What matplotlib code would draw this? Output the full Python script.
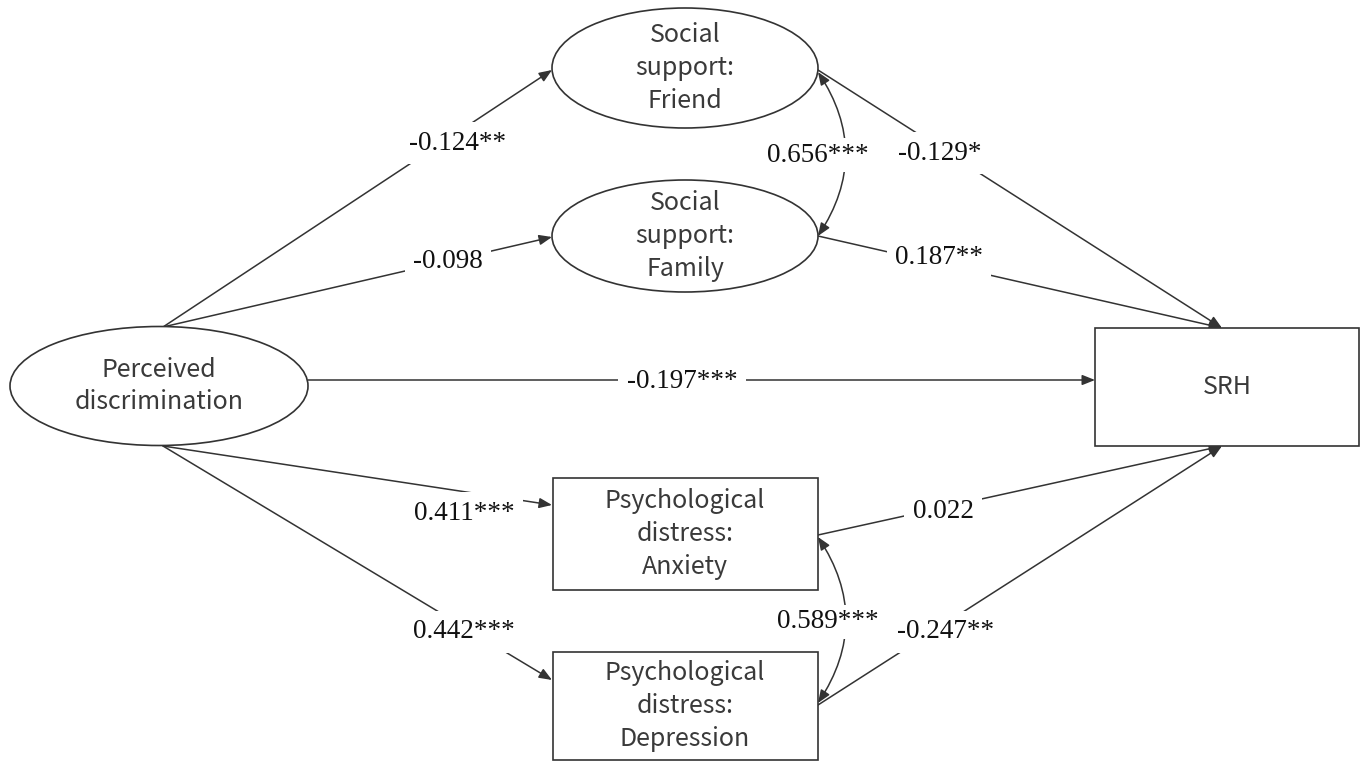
import matplotlib.pyplot as plt
from matplotlib.patches import Ellipse, Rectangle, FancyArrowPatch

# 図のサイズ（ピクセル座標で描く）
W, H = 1362, 763

# ノード: 名前, 形, 中心x, 中心y, 幅, 高さ
node_names = ["PD", "Friend", "Family", "SRH", "Anxiety", "Depression"]
node_labels = ["Perceived\ndiscrimination", "Social\nsupport:\nFriend",
               "Social\nsupport:\nFamily", "SRH",
               "Psychological\ndistress:\nAnxiety", "Psychological\ndistress:\nDepression"]
node_shapes = ["ellipse", "ellipse", "ellipse", "rect", "rect", "rect"]
node_cx = [159, 685, 685, 1227, 685, 685]
node_cy = [386, 68, 236, 387, 534, 706]
node_w = [298, 266, 266, 264, 265, 265]
node_h = [119, 120, 112, 118, 112, 108]

# パス係数: 始点, 終点, 係数ラベル, ラベル位置
path_from = [(163, 327), (163, 327), (308, 380), (163, 446), (163, 446),
             (818, 70), (818, 236), (818, 535), (818, 705)]
path_to = [(552, 70), (552, 237), (1095, 380), (552, 505), (552, 680),
           (1222, 328), (1222, 328), (1222, 446), (1222, 446)]
path_coef = ["-0.124**", "-0.098", "-0.197***", "0.411***", "0.442***",
             "-0.129*", "0.187**", "0.022", "-0.247**"]
path_lab_xy = [(458, 143), (448, 262), (682, 381), (464, 513), (464, 632),
               (940, 153), (939, 258), (943, 512), (946, 632)]

# 相関（両方向の曲線矢印）
cov_from = [(818, 72), (818, 537)]
cov_to = [(818, 236), (818, 703)]
cov_coef = ["0.656***", "0.589***"]
cov_lab_xy = [(818, 155), (828, 622)]

line_c = "#333333"
node_font = "Noto Sans CJK SC"
coef_font = "Liberation Serif"

fig = plt.figure(figsize=(W / 100, H / 100), dpi=100)
ax = fig.add_axes([0, 0, 1, 1])
ax.set_xlim(0, W)
ax.set_ylim(H, 0)
ax.axis("off")

for name, lab, shp, cx, cy, w, h in zip(node_names, node_labels, node_shapes,
                                         node_cx, node_cy, node_w, node_h):
    if shp == "ellipse":
        p = Ellipse((cx, cy), w, h, fc="white", ec=line_c, lw=1.2, zorder=3)
    else:
        p = Rectangle((cx - w / 2, cy - h / 2), w, h, fc="white", ec=line_c, lw=1.2, zorder=3)
    ax.add_patch(p)
    ax.text(cx, cy, lab, ha="center", va="center", fontsize=18, color="#3a3a3a",
            family=node_font, fontweight="light", linespacing=1.33, zorder=4)

astyle = "-|>,head_length=0.55,head_width=0.22"
for a, b, coef, (lx, ly) in zip(path_from, path_to, path_coef, path_lab_xy):
    arr = FancyArrowPatch(a, b, arrowstyle=astyle, mutation_scale=14,
                          shrinkA=0, shrinkB=0, color=line_c, lw=1.1, zorder=2)
    ax.add_patch(arr)
    ax.text(lx, ly, coef, ha="center", va="center", fontsize=19.5, family=coef_font,
            color="#111111", zorder=5,
            bbox=dict(fc="white", ec="none", pad=6))

astyle2 = "<|-|>,head_length=0.55,head_width=0.22"
for a, b, coef, (lx, ly) in zip(cov_from, cov_to, cov_coef, cov_lab_xy):
    arr = FancyArrowPatch(a, b, arrowstyle=astyle2, mutation_scale=14,
                          connectionstyle="arc3,rad=-0.33",
                          shrinkA=0, shrinkB=0, color=line_c, lw=1.1, zorder=2)
    ax.add_patch(arr)
    ax.text(lx, ly, coef, ha="center", va="center", fontsize=19.5, family=coef_font,
            color="#111111", zorder=5,
            bbox=dict(fc="white", ec="none", pad=3))

fig.savefig("out.png", dpi=100, facecolor="white")
